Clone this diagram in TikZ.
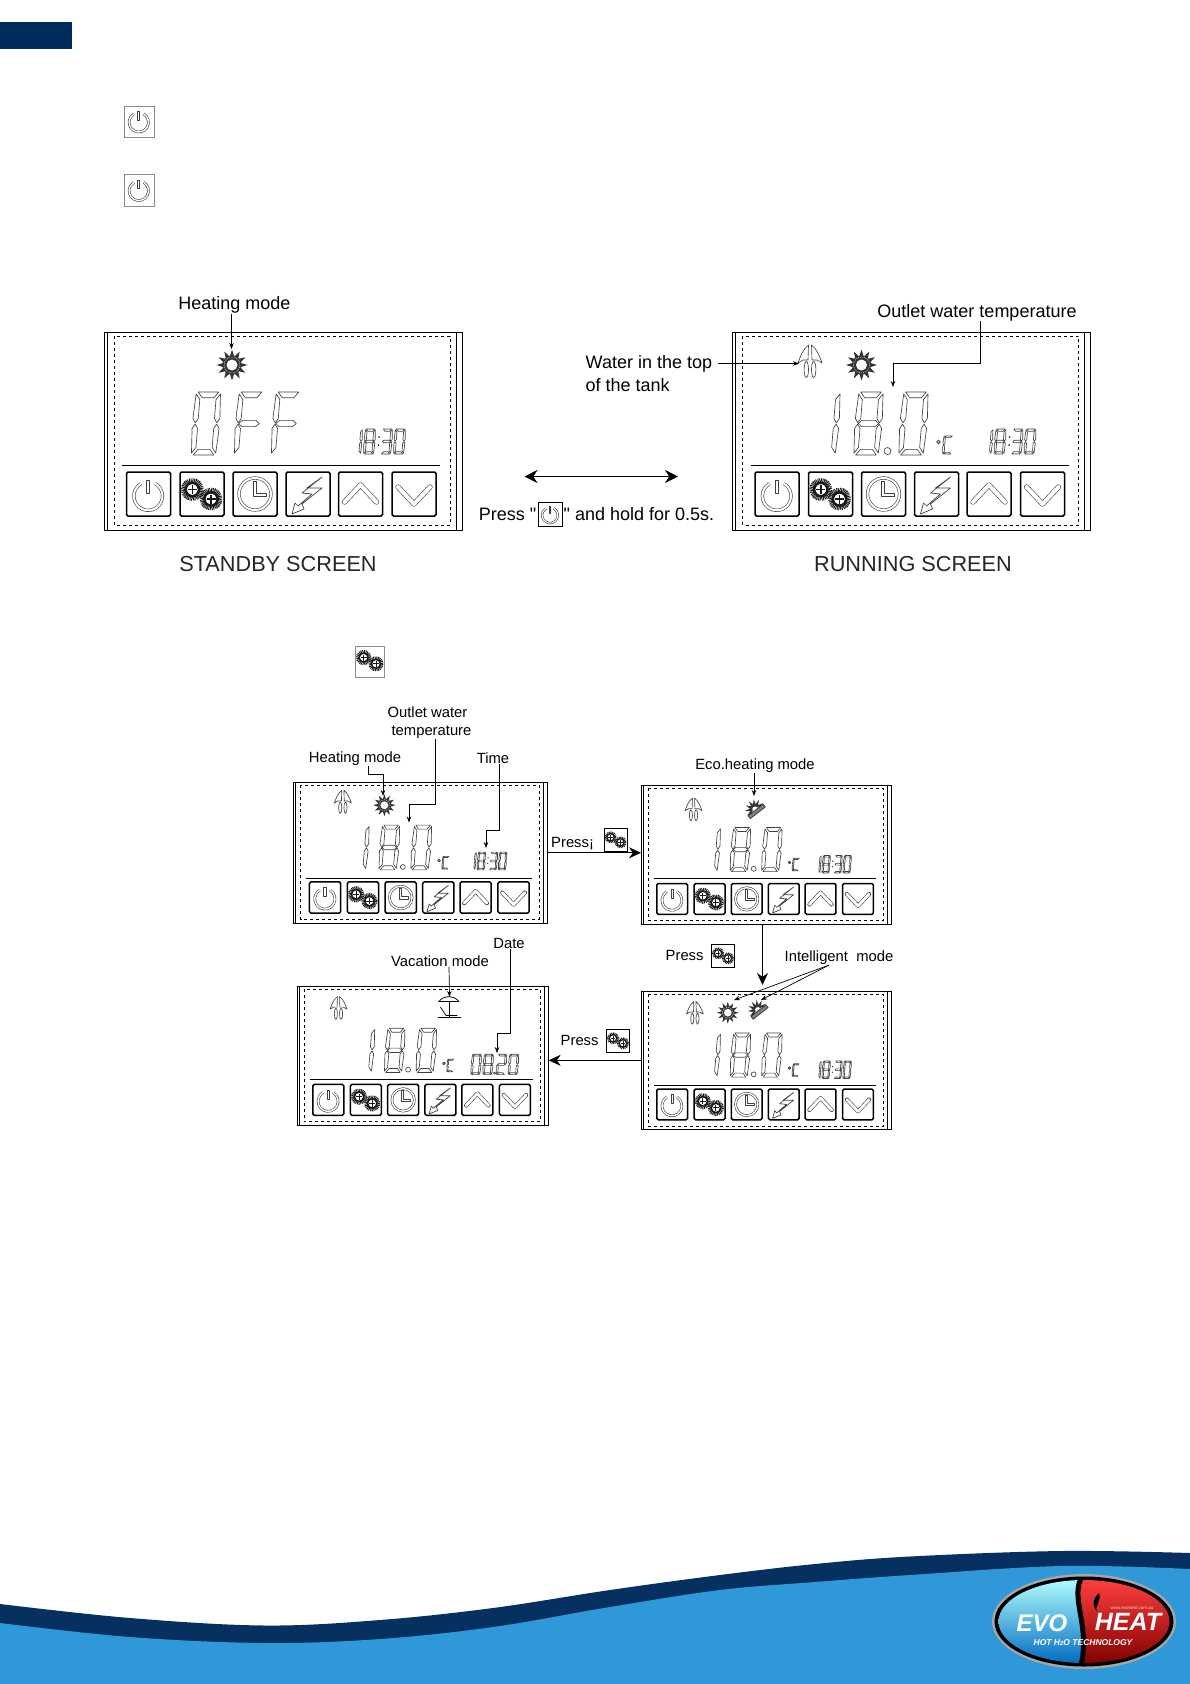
\documentclass[tikz,border=0pt]{standalone}
\usepackage{fontspec}
\setmainfont{Liberation Sans}[Ligatures=TeXOff]
\usepackage{xcolor}
\usetikzlibrary{arrows.meta,positioning,calc}

\definecolor{hdrnavy}{HTML}{002D5C}
\definecolor{wavenavy}{HTML}{05305F}
\definecolor{waveblue}{HTML}{2F98D8}

\def\lcdscale{1}
\def\lcdsega{(.12,0) -- (.88,0) -- (.72,.09) -- (.28,.09) -- cycle}
\def\lcdsegf{(.05,.03) -- (.2,.12) -- (.2,.42) -- (.1,.49) -- (0,.42) -- cycle}
\def\lcdsegb{(.95,.03) -- (1,.42) -- (.9,.49) -- (.8,.42) -- (.8,.12) -- cycle}
\def\lcdsegg{(.12,.5) -- (.25,.45) -- (.75,.45) -- (.88,.5) -- (.75,.55) -- (.25,.55) -- cycle}
\def\lcdsege{(0,.58) -- (.1,.51) -- (.2,.58) -- (.2,.88) -- (.05,.97) -- cycle}
\def\lcdsegc{(1,.58) -- (.9,.51) -- (.8,.58) -- (.8,.88) -- (.95,.97) -- cycle}
\def\lcdsegd{(.12,1) -- (.88,1) -- (.72,.91) -- (.28,.91) -- cycle}

\newcommand{\lcddigit}[5]{%
\begin{scope}[shift={(#1,#2)},x=#3pt,y=-#4pt,xslant=.08]
\foreach \s in {#5} {\expandafter\let\expandafter\segp\csname lcdseg\s\endcsname \draw[segline] \segp;}
\end{scope}}

\newcommand{\lcdtime}[2]{%
\lcddigit{#1}{#2}{11}{25}{b,c}
\lcddigit{#1+13}{#2}{11}{25}{a,b,c,d,e,f,g}
\fill[black!80] (#1+27,#2+8) circle (1) (#1+26.5,#2+16) circle (1);
\lcddigit{#1+30}{#2}{11}{25}{a,b,g,c,d}
\lcddigit{#1+43}{#2}{11}{25}{a,b,c,d,e,f}}

\newcommand{\lcddate}[2]{%
\lcddigit{#1}{#2}{14}{29}{a,b,c,d,e,f}
\lcddigit{#1+17}{#2}{14}{29}{a,b,c,d,e,f,g}
\draw[segline] (#1+32,#2+27) circle (1.6);
\lcddigit{#1+36}{#2}{14}{29}{a,b,g,e,d}
\lcddigit{#1+53}{#2}{14}{29}{a,b,c,d,e,f}}

\newcommand{\lcdtemp}[1]{%
\lcddigit{#1}{60}{27}{63}{b,c}
\lcddigit{#1+43}{60}{27}{63}{a,b,c,d,e,f,g}
\draw[segline] (#1+73,119) circle (3.5);
\lcddigit{#1+88}{60}{27}{63}{a,b,c,d,e,f}
\draw[segline, line width=.9pt] (#1+124,110) circle (1.8);
\lcddigit{#1+129}{104}{10}{18}{a,f,e,d}}

\newcommand{\sunicon}[2]{%
\begin{scope}[shift={(#1,#2)}]
\foreach \a in {0,30,...,330} {\fill[black!80] (\a:15.5) -- (\a+18:8) -- (\a-18:8) -- cycle;}
\fill[black!80] (0,0) circle (9.5);
\draw[white, line width=.4pt, dash pattern=on 1pt off 1pt] (0,0) circle (8);
\fill[white] (0,0) circle (5.5);
\end{scope}}

\newcommand{\ecoicon}[2]{%
\begin{scope}[shift={(#1,#2)},rotate=38,scale=.9]
\foreach \a in {180,210,...,360} {\fill[black!80] (\a:16) -- (\a+18:7.5) -- (\a-18:7.5) -- cycle;}
\fill[black!80] (-8,0) arc[start angle=180,end angle=360,radius=8] -- cycle;
\fill[white] (-4.5,0) arc[start angle=180,end angle=360,radius=4.5] -- cycle;
\draw[black!80, fill=black!50, line width=.7pt] (-15,1.5) rectangle (15,7);
\end{scope}}

\newcommand{\tankicon}[2]{%
\begin{scope}[shift={(#1,#2)}]
\draw[segline] (-1.5,-16) .. controls (-7,-12) and (-10,-4) .. (-12,2) -- (-7,-1) -- (-2,-1) -- cycle;
\draw[segline] (1.5,-16) .. controls (7,-12) and (10,-4) .. (12,2) -- (7,-1) -- (2,-1) -- cycle;
\draw[segline] (-3.7,8.5) ellipse (2.2 and 8);
\draw[segline] (3.7,8.5) ellipse (2.2 and 8);
\end{scope}}

\newcommand{\umbrellaicon}[2]{%
\begin{scope}[shift={(#1,#2)}]
\draw[line width=.8pt] (-14,-8) .. controls (-8,-17) and (8,-17) .. (14,-8) -- cycle;
\draw[line width=.7pt] (0,-8) -- (0,15);
\draw[line width=.9pt] (-16,15) -- (17,15);
\draw[line width=.7pt] (-12,0) -- (-4,12) -- (12,12);
\end{scope}}

\newcommand{\iconpower}{%
\draw[iconline] (21.7,24)+(-60:14.3) arc[start angle=-60,end angle=240,radius=14.3];
\draw[segline] (20.2,8) rectangle (23.2,21);}
\newcommand{\gearwheel}[2]{%
\draw[black!90, line width=4.4pt*\lcdscale, dash pattern=on .9pt off .7pt] (#1,#2) circle (9.2);
\draw[black!90, line width=2.6pt*\lcdscale] (#1,#2) circle (6.6);
\fill[white] (#1,#2) circle (5.2);
\draw[black!90, line width=1.4pt*\lcdscale] (#1-4.5,#2) -- (#1+4.5,#2) (#1,#2-4.5) -- (#1,#2+4.5);}
\newcommand{\icongears}{\gearwheel{12.3}{17.5}\gearwheel{31}{27}}
\newcommand{\iconclock}{%
\draw[iconline] (22,22) circle (16);
\draw[segline, line width=.8pt] (20,9) -- (23,9) -- (23,21) -- (33,21) -- (33,24) -- (20,24) -- cycle;}
\newcommand{\iconbolt}{%
\draw[black!75, line width=.7pt, line join=round] (36,5) -- (21,16) -- (36,16) -- (16,32) -- (18,37) -- (6,42) -- (9,31) -- (12,34) -- (26,22) -- (16,21) -- cycle;}
\newcommand{\iconup}{%
\draw[chevline] (6,30) -- (22,13) -- (38,30);}
\newcommand{\icondown}{%
\draw[chevline] (6,15) -- (22,32) -- (38,15);}

\newcommand{\lcdscreen}[5]{%
\node[lcdbox, minimum width=#4*358pt, minimum height=#4*198pt, anchor=north west] (#1) at (#2,#3) {};
\begin{scope}[shift={(#2,#3)},scale=#4]
\def\lcdscale{#4}
\draw (3,0) -- (3,198) (352,0) -- (352,198);
\draw[dashed, line width=.6pt] (10,4) rectangle (346,193);
\draw[black, line width=.5pt, double=white, double distance=.7pt] (18,134) -- (336,134);
\foreach \bx/\ic in {22.5/\iconpower,76/\icongears,129/\iconclock,182/\iconbolt,234.5/\iconup,288/\icondown}{%
\begin{scope}[shift={(\bx,140)}]
\draw[btnline] (0,0) rectangle (44,44);
\ic
\end{scope}}
#5
\end{scope}}

\newcommand{\gearbox}[2]{%
\begin{scope}[shift={(#1,#2)},scale=.53]
\def\lcdscale{.53}
\draw[line width=1pt] (0,0) rectangle (44,45);
\icongears
\end{scope}}

\begin{document}
\begin{tikzpicture}[
x=1pt, y=-1pt,
lcdbox/.style={draw, line width=1pt, inner sep=0pt, outer sep=0pt},
segline/.style={draw=black!75, line width=.65pt, line join=round},
btnline/.style={draw=black, line width=1.5pt, rounded corners=1.5pt},
iconline/.style={draw=black!75, line width=.6pt, double=white, double distance=2pt*\lcdscale},
chevline/.style={draw=black!75, line width=.6pt, double=white, double distance=4pt*\lcdscale, line cap=round, line join=round},
lblbig/.style={font=\fontsize{18}{20}\selectfont, inner sep=0pt},
lblsmall/.style={font=\fontsize{14.8}{17}\selectfont, inner sep=0pt},
lblcap/.style={font=\fontsize{21.7}{24}\selectfont, inner sep=0pt, text=black!85},
arrs/.style={-{Stealth[length=6pt,width=4.5pt]}, line width=.7pt},
arrb/.style={-{Stealth[length=12pt,width=11pt]}, line width=.8pt},
arrd/.style={{Stealth[length=13pt,width=13pt]}-{Stealth[length=13pt,width=13pt]}, line width=.9pt},
plainbox/.style={draw=black!45, line width=.6pt, fill=white}
]
\useasboundingbox (0,0) rectangle (1190,1684);

\fill[hdrnavy] (0,22) rectangle (72,49);

\begin{scope}[shift={(124,106)},scale=.68]
\def\lcdscale{.68}
\draw[plainbox] (0,0) rectangle (44,46);
\iconpower
\end{scope}
\begin{scope}[shift={(124,174.5)},scale=.68]
\def\lcdscale{.68}
\draw[plainbox] (0,0) rectangle (44,47);
\iconpower
\end{scope}
\begin{scope}[shift={(355.5,646)},scale=.66]
\def\lcdscale{.66}
\draw[plainbox] (0,0) rectangle (44,48);
\icongears
\end{scope}

\lcdscreen{stby}{104}{332}{1}{
\sunicon{128}{33}
\lcddigit{91}{60}{27}{63}{a,b,c,d,e,f}
\lcddigit{134}{60}{27}{63}{a,f,g,e}
\lcddigit{171}{60}{27}{63}{a,f,g,e}
\lcdtime{248}{97}
}
\lcdscreen{run}{732.5}{332}{1}{
\tankicon{77.5}{29}
\sunicon{129}{33}
\lcdtemp{82}
\lcdtime{250}{97}
}
\lcdscreen{heat}{293.5}{782.5}{.71}{
\tankicon{69.5}{27}
\sunicon{128}{32}
\lcdtemp{81}
\lcdtime{247}{98}
}
\lcdscreen{eco}{641}{785.5}{.7}{
\tankicon{75}{34}
\ecoicon{163}{34}
\lcdtemp{88}
\lcdtime{247}{100}
}
\lcdscreen{intel}{641}{991}{.7}{
\tankicon{77}{31}
\sunicon{124}{31}
\ecoicon{167}{27}
\lcdtemp{88}
\lcdtime{247}{100}
}
\lcdscreen{vac}{297}{986}{.703}{
\tankicon{59}{31}
\umbrellaicon{216}{30}
\lcdtemp{85}
\lcddate{249}{97}
}

\node[lblbig] (lblstby) at (234.5,305) {Heating mode};
\node[lblcap] (capstby) at (278,564) {STANDBY SCREEN};
\node[lblbig] (lblrun) at (977,312.5) {Outlet water temperature};
\node[lblbig, anchor=west] (lblwater) at (585.5,363.5) {Water in the top};
\node[lblbig, anchor=west] (lbltank) at (585.5,385.5) {of the tank};
\node[lblcap] (caprun) at (913,564) {RUNNING SCREEN};

\node[lblsmall] (lbloutlet) at (427.5,712) {Outlet water};
\node[lblsmall] (lbltemp) at (431.5,732) {temperature};
\node[lblsmall] (lblheat) at (355,759) {Heating mode};
\node[lblsmall] (lbltime) at (493,758.5) {Time};
\node[lblsmall] (lbleco) at (755,766) {Eco.heating mode};
\node[lblsmall] (lblint) at (839,958) {Intelligent~ mode};
\node[lblsmall] (lblvac) at (440,961) {Vacation mode};
\node[lblsmall] (lbldate) at (509,943.5) {Date};
\node[lblsmall, anchor=west] (pressa) at (551,844) {Press¡};
\node[lblsmall, anchor=west] (pressb) at (665.5,955) {Press};
\node[lblsmall, anchor=west] (pressc) at (560.5,1040) {Press};

\gearbox{604}{828}
\gearbox{711.5}{944}
\gearbox{606.5}{1029}

\node[draw, line width=1pt, minimum width=24pt, minimum height=24pt, inner sep=0pt] (pwrbox) at (550,514) {};
\begin{scope}[shift={(538,502)},scale=.55]
\def\lcdscale{.55}
\iconpower
\end{scope}
\node[lblbig, left=1pt of pwrbox] (holdl) {Press "};
\node[lblbig, right=1pt of pwrbox] (holdr) {" and hold for 0.5s.};

\coordinate (dbla) at (524.5,476.5);
\coordinate (dblb) at (678,476.5);
\draw[arrd] (dbla) -- (dblb);

\coordinate (tipstby) at (231.5,349);
\draw[arrs] ([xshift=-3pt]lblstby.south) -- (tipstby);

\coordinate (elbowrun) at (893,363.5);
\coordinate (tiprun) at (893,387);
\draw[arrs] ([xshift=3pt]lblrun.south) |- (elbowrun) -- (tiprun);
\coordinate (tiptank) at (799,363.5);
\draw[arrs] ([xshift=6pt]lblwater.east) -- (lblwater.east -| tiptank);

\coordinate (elbowheat) at (383,774);
\coordinate (tipheat) at (383,796);
\draw[arrs] ([xshift=13pt]lblheat.south) |- (elbowheat) -- (tipheat);
\coordinate (elbowtemp) at (409,804);
\coordinate (tiptemp) at (409,822.5);
\draw[arrs] ([xshift=4pt]lbltemp.south) |- (elbowtemp) -- (tiptemp);
\coordinate (elbowtime) at (486,830);
\coordinate (tiptime) at (486,848);
\draw[arrs] ([xshift=6pt]lbltime.south) |- (elbowtime) -- (tiptime);
\coordinate (tipeco) at (754,796);
\draw[arrs] (lbleco.south -| tipeco) -- (tipeco);
\coordinate (tipvac) at (449.5,997);
\draw[arrs] ([xshift=9pt]lblvac.south) -- (tipvac);
\coordinate (elbowdate) at (497,1033);
\coordinate (tipdate) at (497,1053);
\draw[arrs] ([xshift=1pt]lbldate.south) |- (elbowdate) -- (tipdate);
\coordinate (tipsun) at (734,1000);
\coordinate (tipfan) at (761,1000);
\draw[arrs] ([xshift=-10pt]lblint.south) -- (tipsun);
\draw[arrs] ([xshift=-10pt]lblint.south) -- (tipfan);

\draw[arrb] (heat.east) -- (heat.east -| eco.west);
\coordinate (tipintel) at (762.5,985);
\draw[arrb] (eco.south -| tipintel) -- (tipintel);
\draw[arrb] (intel.west) -- (intel.west -| vac.east);

\fill[wavenavy] (0,1684) -- plot[smooth,tension=.6] coordinates {(0,1604) (130,1618) (265,1625.5) (380,1620) (493,1608) (610,1590) (720,1575) (815,1564) (910,1556.5) (1062,1551) (1190,1553)} -- (1190,1684) -- cycle;
\fill[waveblue] (0,1684) -- plot[smooth,tension=.6] coordinates {(0,1623) (130,1637) (265,1643) (380,1639) (493,1627) (610,1607) (720,1590) (815,1582) (910,1575) (1062,1566) (1190,1569)} -- (1190,1684) -- cycle;

\fill[black!35] (1084,1621.5) ellipse (92 and 47.5);
\fill[black] (1084,1621.5) ellipse (89.5 and 45);
\begin{scope}
\clip (1084,1621.5) ellipse (85.5 and 41.5);
\shade[top color=white!70!cyan, bottom color=cyan!55!blue!75!black] (995,1578) rectangle (1090,1665);
\shade[top color=red!75!white, middle color=red!90!black, bottom color=red!50!black] (1083,1578) .. controls (1068,1597) and (1092,1625) .. (1080,1665) -- (1175,1665) -- (1175,1578) -- cycle;
\draw[black, line width=5pt] (1083,1575) .. controls (1068,1597) and (1092,1625) .. (1080,1670);
\end{scope}
\node[font=\fontsize{24}{24}\selectfont\bfseries\itshape, text=white, inner sep=0pt] (logoevo) at (1042,1623) {EVO};
\node[font=\fontsize{25}{25}\selectfont\bfseries\itshape, text=white, inner sep=0pt] (logoheat) at (1128,1622) {HEAT};
\node[font=\fontsize{8.5}{9}\selectfont\bfseries\itshape, text=white, inner sep=0pt] (logotech) at (1083,1643) {HOT H{\fontsize{6}{6}\selectfont 2}O TECHNOLOGY};
\node[font=\fontsize{4.5}{5}\selectfont, text=white!80!red, inner sep=0pt] (logoweb) at (1132,1607.5) {www.evoheat.com.au};
\fill[black] (1099,1593) .. controls (1092,1600) and (1092,1604) .. (1097,1612) .. controls (1094,1605) and (1102,1601) .. (1099,1593);
\end{tikzpicture}
\end{document}
